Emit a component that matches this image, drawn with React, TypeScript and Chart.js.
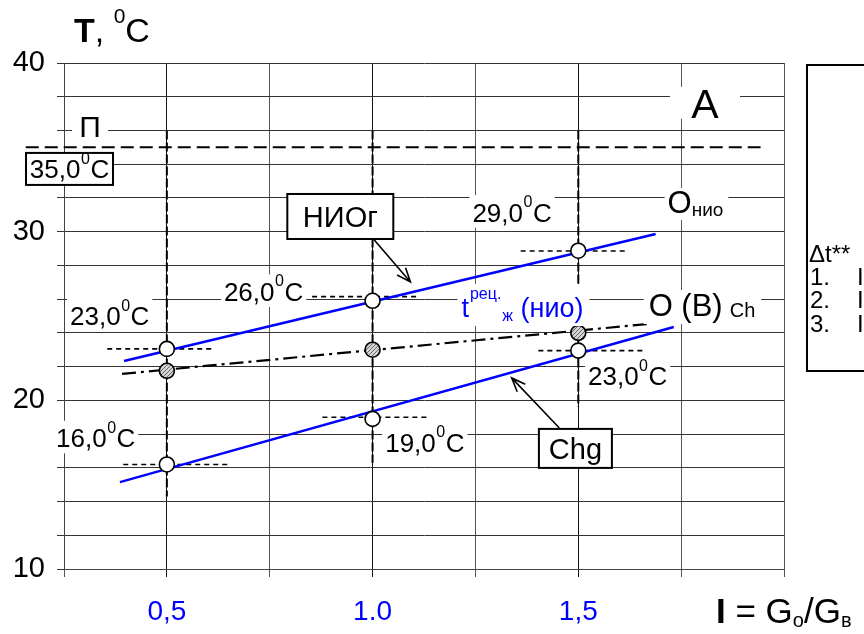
import React, { useEffect, useRef } from 'react';
import { Chart, registerables } from 'chart.js';

Chart.register(...registerables);

const FONT = '"Liberation Sans", Arial, Helvetica, sans-serif';

// ---- axes ----
const I_GRID = [0.25, 0.5, 0.75, 1.0, 1.25, 1.5, 1.75, 2.0];
const X_TICK_VALUES = [0.5, 1.0, 1.5];
const X_TICK_TEXT = ['0,5', '1.0', '1,5'];
const T_GRID = [10, 12, 14, 16, 18, 20, 22, 24, 26, 28, 30, 32, 34, 36, 38, 40];
const Y_TICK_VALUES = [10, 20, 30, 40];

// ---- measured points (I, T) ----
const I_POINTS = [0.5, 1.0, 1.5];
const T_NIO_POINTS = [23.05, 25.9, 28.87];
const T_CH_POINTS = [21.75, 23.0, 24.0];
const T_CHG_POINTS = [16.2, 18.9, 22.95];

// ---- fitted lines ----
const NIO_LINE_I = [0.396, 1.688];
const NIO_LINE_T = [22.33, 29.86];
const CH_LINE_I = [0.391, 1.671];
const CH_LINE_T = [21.57, 24.53];
const CHG_LINE_I = [0.386, 1.732];
const CHG_LINE_T = [15.15, 24.35];

// ---- vertical guides ----
const V_I = [0.5, 1.0, 1.5];
const V_TOP_T = [36, 36, 36];
const V_BOTTOM_T = [14.3, 16.3, 19.6];

// ---- limit line П ----
const LIMIT_T = 35.0;
const LIMIT_I = [0.157, 1.943];
const LIMIT_TEXT = '35,0';
const LIMIT_LABEL_I = 0.2634;
const LIMIT_LABEL_T = 33.72;
const LIMIT_NAME = 'П';
const LIMIT_NAME_I = 0.3133;
const LIMIT_NAME_T = 36.27;

// ---- short dashed guides at the markers ----
const GUIDE_T = [23.05, 16.2, 26.15, 19.0, 28.85, 22.95];
const GUIDE_FROM_I = [0.355, 0.394, 0.853, 0.878, 1.36, 1.403];
const GUIDE_TO_I = [0.61, 0.649, 1.109, 1.138, 1.615, 1.659];

// ---- value labels ----
const VALUE_LABEL_TEXT = ['29,0', '26,0', '23,0', '16,0', '19,0', '23,0'];
const VALUE_LABEL_I = [1.339, 0.735, 0.361, 0.327, 1.127, 1.62];
const VALUE_LABEL_T = [31.15, 26.45, 25.0, 17.77, 17.5, 21.45];

// ---- callouts ----
const CALLOUT_TEXT = ['НИОг', 'Chg'];
const CALLOUT_I = [0.9216, 1.493];
const CALLOUT_T = [30.9, 17.15];
const ARROW_FROM_I = [1.0, 1.454];
const ARROW_FROM_T = [29.63, 18.36];
const ARROW_TO_I = [1.092, 1.338];
const ARROW_TO_T = [27.02, 21.33];

// ---- series names ----
const NAME_A = 'A';
const NAME_A_I = 1.808;
const NAME_A_T = 37.64;
const NAME_NIO = ['O', 'нио'];
const NAME_NIO_I = 1.717;
const NAME_NIO_T = 31.11;
const NAME_CH = ['O (B)', 'Ch'];
const NAME_CH_I = 1.671;
const NAME_CH_T = 25.0;
const NAME_T = ['t', 'рец.', 'ж', ' (нио)'];
const NAME_T_I = 1.216;
const NAME_T_T = 24.94;

// ---- side panel ----
const PANEL_LINES = ['Δt**', '1.', '2.', '3.'];

const BLUE = '#0000ff';

function pts(xs: number[], ys: number[]) {
  return xs.map((v, i) => ({ x: v, y: ys[i] }));
}

function drawDegree(ctx: CanvasRenderingContext2D, num: string, cx: number, cy: number, size: number, bg: boolean) {
  const sup = Math.round(size * 0.62);
  ctx.font = `${size}px ${FONT}`;
  const w1 = ctx.measureText(num).width;
  const w3 = ctx.measureText('C').width;
  ctx.font = `${sup}px ${FONT}`;
  const w2 = ctx.measureText('0').width;
  const total = w1 + w2 + w3 + 1;
  const x0 = cx - total / 2;
  const base = cy + size * 0.358;
  if (bg) {
    ctx.fillStyle = '#fff';
    ctx.fillRect(x0 - 3, cy - size * 0.66, total + 6, size * 1.25);
  }
  ctx.fillStyle = '#000';
  ctx.textAlign = 'left';
  ctx.textBaseline = 'alphabetic';
  ctx.font = `${size}px ${FONT}`;
  ctx.fillText(num, x0, base);
  ctx.font = `${sup}px ${FONT}`;
  ctx.fillText('0', x0 + w1 + 0.5, base - size * 0.56);
  ctx.font = `${size}px ${FONT}`;
  ctx.fillText('C', x0 + w1 + w2 + 1, base);
}

function drawArrow(ctx: CanvasRenderingContext2D, x1: number, y1: number, x2: number, y2: number) {
  const a = Math.atan2(y2 - y1, x2 - x1);
  const head = 15;
  const spread = 0.38;
  ctx.strokeStyle = '#000';
  ctx.lineWidth = 1.6;
  ctx.beginPath();
  ctx.moveTo(x1, y1);
  ctx.lineTo(x2, y2);
  ctx.moveTo(x2 - head * Math.cos(a - spread), y2 - head * Math.sin(a - spread));
  ctx.lineTo(x2, y2);
  ctx.lineTo(x2 - head * Math.cos(a + spread), y2 - head * Math.sin(a + spread));
  ctx.stroke();
}

const annotations = {
  id: 'annotations',
  afterDatasetsDraw(chart: any) {
    const { ctx, chartArea, scales } = chart;
    const xs = scales.x;
    const ys = scales.y;
    const px = (v: number) => xs.getPixelForValue(v);
    const py = (v: number) => ys.getPixelForValue(v);
    ctx.save();

    // value labels
    VALUE_LABEL_TEXT.forEach((t, i) => {
      drawDegree(ctx, t, px(VALUE_LABEL_I[i]), py(VALUE_LABEL_T[i]), 26, true);
    });

    // limit label box
    {
      const cx = px(LIMIT_LABEL_I);
      const cy = py(LIMIT_LABEL_T);
      const w = 87;
      const h = 32;
      ctx.fillStyle = '#fff';
      ctx.fillRect(cx - w / 2, cy - h / 2, w, h);
      ctx.strokeStyle = '#000';
      ctx.lineWidth = 2;
      ctx.strokeRect(cx - w / 2, cy - h / 2, w, h);
      drawDegree(ctx, LIMIT_TEXT, cx, cy, 26, false);
      // П
      const nx = px(LIMIT_NAME_I);
      const ny = py(LIMIT_NAME_T);
      ctx.fillStyle = '#fff';
      ctx.fillRect(nx - 18, ny - 15, 36, 30);
      ctx.fillStyle = '#000';
      ctx.font = `30px ${FONT}`;
      ctx.textAlign = 'center';
      ctx.textBaseline = 'alphabetic';
      ctx.fillText(LIMIT_NAME, nx, ny + 11);
    }

    // callouts
    CALLOUT_TEXT.forEach((t, i) => {
      drawArrow(ctx, px(ARROW_FROM_I[i]), py(ARROW_FROM_T[i]), px(ARROW_TO_I[i]), py(ARROW_TO_T[i]));
      const cx = px(CALLOUT_I[i]);
      const cy = py(CALLOUT_T[i]);
      ctx.font = `29px ${FONT}`;
      const w = i === 0 ? 106 : 73;
      const h = i === 0 ? 45 : 39;
      ctx.fillStyle = '#fff';
      ctx.fillRect(cx - w / 2, cy - h / 2, w, h);
      ctx.strokeStyle = '#000';
      ctx.lineWidth = 2;
      ctx.strokeRect(cx - w / 2, cy - h / 2, w, h);
      ctx.fillStyle = '#000';
      ctx.textAlign = 'center';
      ctx.textBaseline = 'alphabetic';
      ctx.fillText(t, cx, cy + 10.5);
    });

    ctx.textAlign = 'left';
    ctx.textBaseline = 'alphabetic';

    // A
    {
      const cx = px(NAME_A_I);
      const cy = py(NAME_A_T);
      ctx.fillStyle = '#fff';
      ctx.fillRect(cx - 35, cy - 16, 70, 32);
      ctx.fillStyle = '#000';
      ctx.font = `41px ${FONT}`;
      ctx.textAlign = 'center';
      ctx.fillText(NAME_A, cx, cy + 15);
      ctx.textAlign = 'left';
    }

    // O нио
    {
      const x0 = px(NAME_NIO_I);
      const b = py(NAME_NIO_T);
      ctx.font = `31px ${FONT}`;
      const w1 = ctx.measureText(NAME_NIO[0]).width;
      ctx.font = `19px ${FONT}`;
      const w2 = ctx.measureText(NAME_NIO[1]).width;
      ctx.fillStyle = '#fff';
      ctx.fillRect(x0 - 3, b - 25, w1 + w2 + 8, 32);
      ctx.fillStyle = '#000';
      ctx.font = `31px ${FONT}`;
      ctx.fillText(NAME_NIO[0], x0, b);
      ctx.font = `19px ${FONT}`;
      ctx.fillText(NAME_NIO[1], x0 + w1, b + 3);
    }

    // O (B) Ch
    {
      const x0 = px(NAME_CH_I);
      const b = py(NAME_CH_T);
      ctx.font = `31px ${FONT}`;
      const w1 = ctx.measureText(NAME_CH[0]).width;
      ctx.font = `20px ${FONT}`;
      const w2 = ctx.measureText(NAME_CH[1]).width;
      ctx.fillStyle = '#fff';
      ctx.fillRect(x0 - 5, b - 26, w1 + w2 + 18, 34);
      ctx.fillStyle = '#000';
      ctx.font = `31px ${FONT}`;
      ctx.fillText(NAME_CH[0], x0, b);
      ctx.font = `20px ${FONT}`;
      ctx.fillText(NAME_CH[1], x0 + w1 + 7, b + 1);
    }

    // t рец ж (нио)
    {
      const x0 = px(NAME_T_I);
      const b = py(NAME_T_T);
      ctx.font = `27px ${FONT}`;
      const w1 = ctx.measureText(NAME_T[0]).width;
      const w4 = ctx.measureText(NAME_T[3]).width;
      ctx.font = `16px ${FONT}`;
      const w2 = ctx.measureText(NAME_T[1]).width;
      const w3 = ctx.measureText(NAME_T[2]).width;
      ctx.fillStyle = '#fff';
      ctx.fillRect(x0 - 4, b - 33, w1 + w2 + w3 + w4 + 12, 42);
      ctx.fillStyle = BLUE;
      ctx.font = `27px ${FONT}`;
      ctx.fillText(NAME_T[0], x0, b);
      ctx.font = `16px ${FONT}`;
      ctx.fillText(NAME_T[1], x0 + w1 + 1, b - 18);
      ctx.fillText(NAME_T[2], x0 + w1 + w2 + 2, b + 4);
      ctx.font = `27px ${FONT}`;
      ctx.fillText(NAME_T[3], x0 + w1 + w2 + w3 + 2, b);
    }

    // axis title T, 0C
    {
      const x0 = chartArea.left + 10;
      const b = chartArea.top - 21;
      ctx.fillStyle = '#000';
      ctx.font = `bold 34px ${FONT}`;
      ctx.fillText('T', x0, b);
      let x = x0 + ctx.measureText('T').width;
      ctx.font = `34px ${FONT}`;
      ctx.fillText(', ', x, b);
      x += ctx.measureText(', ').width;
      ctx.font = `21px ${FONT}`;
      ctx.fillText('0', x, b - 19);
      x += ctx.measureText('0').width;
      ctx.font = `34px ${FONT}`;
      ctx.fillText('C', x, b);
    }

    // axis title I = Go/Gв
    {
      let x = chartArea.right - 68;
      const b = chartArea.bottom + 54;
      ctx.fillStyle = '#000';
      ctx.font = `bold 35px ${FONT}`;
      ctx.fillText('I', x, b);
      x += ctx.measureText('I').width;
      ctx.font = `35px ${FONT}`;
      ctx.fillText(' = G', x, b);
      x += ctx.measureText(' = G').width;
      ctx.font = `20px ${FONT}`;
      ctx.fillText('о', x, b + 4);
      x += ctx.measureText('о').width;
      ctx.font = `35px ${FONT}`;
      ctx.fillText('/G', x, b);
      x += ctx.measureText('/G').width;
      ctx.font = `20px ${FONT}`;
      ctx.fillText('в', x, b + 4);
    }

    // side panel
    {
      const left = chartArea.right + 23;
      const top = chartArea.top + 2;
      ctx.strokeStyle = '#000';
      ctx.lineWidth = 2;
      ctx.strokeRect(left, top, 120, 306);
      ctx.fillStyle = '#000';
      ctx.font = `24px ${FONT}`;
      const base = [top + 197, top + 220, top + 243, top + 267];
      ctx.fillText(PANEL_LINES[0], left + 2, base[0]);
      for (let k = 1; k < 4; k++) {
        ctx.fillText(PANEL_LINES[k], left + 3, base[k]);
        ctx.fillText('I', left + 50, base[k]);
      }
    }

    ctx.restore();
  },
};

export default function App() {
  const ref = useRef<HTMLCanvasElement | null>(null);

  useEffect(() => {
    const canvas = ref.current;
    if (!canvas) return;

    // hatched fill for the dash-dot markers
    const pc = document.createElement('canvas');
    pc.width = 4;
    pc.height = 4;
    const pctx = pc.getContext('2d')!;
    pctx.fillStyle = '#d4d4d4';
    pctx.fillRect(0, 0, 4, 4);
    pctx.strokeStyle = '#6a6a6a';
    pctx.lineWidth = 1;
    pctx.beginPath();
    pctx.moveTo(0, 4);
    pctx.lineTo(4, 0);
    pctx.stroke();
    const hatch = canvas.getContext('2d')!.createPattern(pc, 'repeat') || '#bbbbbb';

    const marker = (data: any, fill: any) => ({
      data,
      showLine: false,
      pointRadius: 7.5,
      pointBackgroundColor: fill,
      pointBorderColor: '#000',
      pointBorderWidth: 1.6,
      order: 0,
    });
    const line = (data: any, color: string, width: number, dash: number[], order: number, clip?: boolean) => ({
      data,
      showLine: true,
      pointRadius: 0,
      borderColor: color,
      borderWidth: width,
      borderDash: dash,
      order,
      clip: clip === false ? false : undefined,
    });

    const datasets: any[] = [
      marker(pts(I_POINTS, T_NIO_POINTS), '#ffffff'),
      marker(pts(I_POINTS, T_CH_POINTS), hatch),
      marker(pts(I_POINTS, T_CHG_POINTS), '#ffffff'),
      line(pts(NIO_LINE_I, NIO_LINE_T), BLUE, 2.5, [], 1),
      line(pts(CHG_LINE_I, CHG_LINE_T), BLUE, 2.5, [], 1),
      line(pts(CH_LINE_I, CH_LINE_T), '#000', 2.2, [14, 5, 3, 5], 1),
      ...V_I.map((v, i) => line([{ x: v, y: V_TOP_T[i] }, { x: v, y: V_BOTTOM_T[i] }], '#000', 2, [9, 3], 2)),
      line([{ x: LIMIT_I[0], y: LIMIT_T }, { x: LIMIT_I[1], y: LIMIT_T }], '#000', 2, [13, 6], 2, false),
      ...GUIDE_T.map((t, i) => line([{ x: GUIDE_FROM_I[i], y: t }, { x: GUIDE_TO_I[i], y: t }], '#000', 1.6, [5, 4], 3)),
    ];

    const chart = new Chart(canvas, {
      type: 'scatter',
      data: { datasets },
      options: {
        responsive: false,
        animation: false,
        devicePixelRatio: 1,
        layout: { padding: { top: 63, right: 80, bottom: 0, left: 0 } },
        plugins: {
          legend: { display: false },
          tooltip: { enabled: false },
          title: { display: false },
        },
        scales: {
          x: {
            type: 'linear',
            min: I_GRID[0],
            max: I_GRID[I_GRID.length - 1],
            afterBuildTicks: (s: any) => {
              s.ticks = I_GRID.map((v) => ({ value: v }));
            },
            afterFit: (s: any) => {
              s.height = 65;
            },
            ticks: {
              autoSkip: false,
              maxRotation: 0,
              color: BLUE,
              font: { family: FONT, size: 28 },
              padding: 18,
              callback: (value: any) => {
                const k = X_TICK_VALUES.findIndex((v) => Math.abs(v - Number(value)) < 1e-9);
                return k >= 0 ? X_TICK_TEXT[k] : '';
              },
            },
            grid: {
              color: (c: any) =>
                c.tick && X_TICK_VALUES.some((v) => Math.abs(v - c.tick.value) < 1e-9) ? '#111' : '#555',
              lineWidth: 1,
              tickLength: 8,
            },
            border: { color: '#444', width: 1 },
          },
          y: {
            type: 'linear',
            min: T_GRID[0],
            max: T_GRID[T_GRID.length - 1],
            afterBuildTicks: (s: any) => {
              s.ticks = T_GRID.map((v) => ({ value: v }));
            },
            afterFit: (s: any) => {
              s.width = 64;
            },
            ticks: {
              autoSkip: false,
              color: '#000',
              font: { family: FONT, size: 29 },
              padding: 12,
              callback: (value: any) => (Y_TICK_VALUES.includes(Number(value)) ? String(value) : ''),
            },
            grid: {
              color: '#333',
              lineWidth: 1,
              tickLength: 7,
            },
            border: { color: '#444', width: 1 },
          },
        },
      },
      plugins: [annotations],
    } as any);

    return () => {
      chart.destroy();
    };
  }, []);

  return (
    <div style={{ position: 'absolute', left: 0, top: 0, width: 864, height: 634, background: '#fff' }}>
      <canvas ref={ref} width={864} height={634} style={{ display: 'block' }} />
    </div>
  );
}
